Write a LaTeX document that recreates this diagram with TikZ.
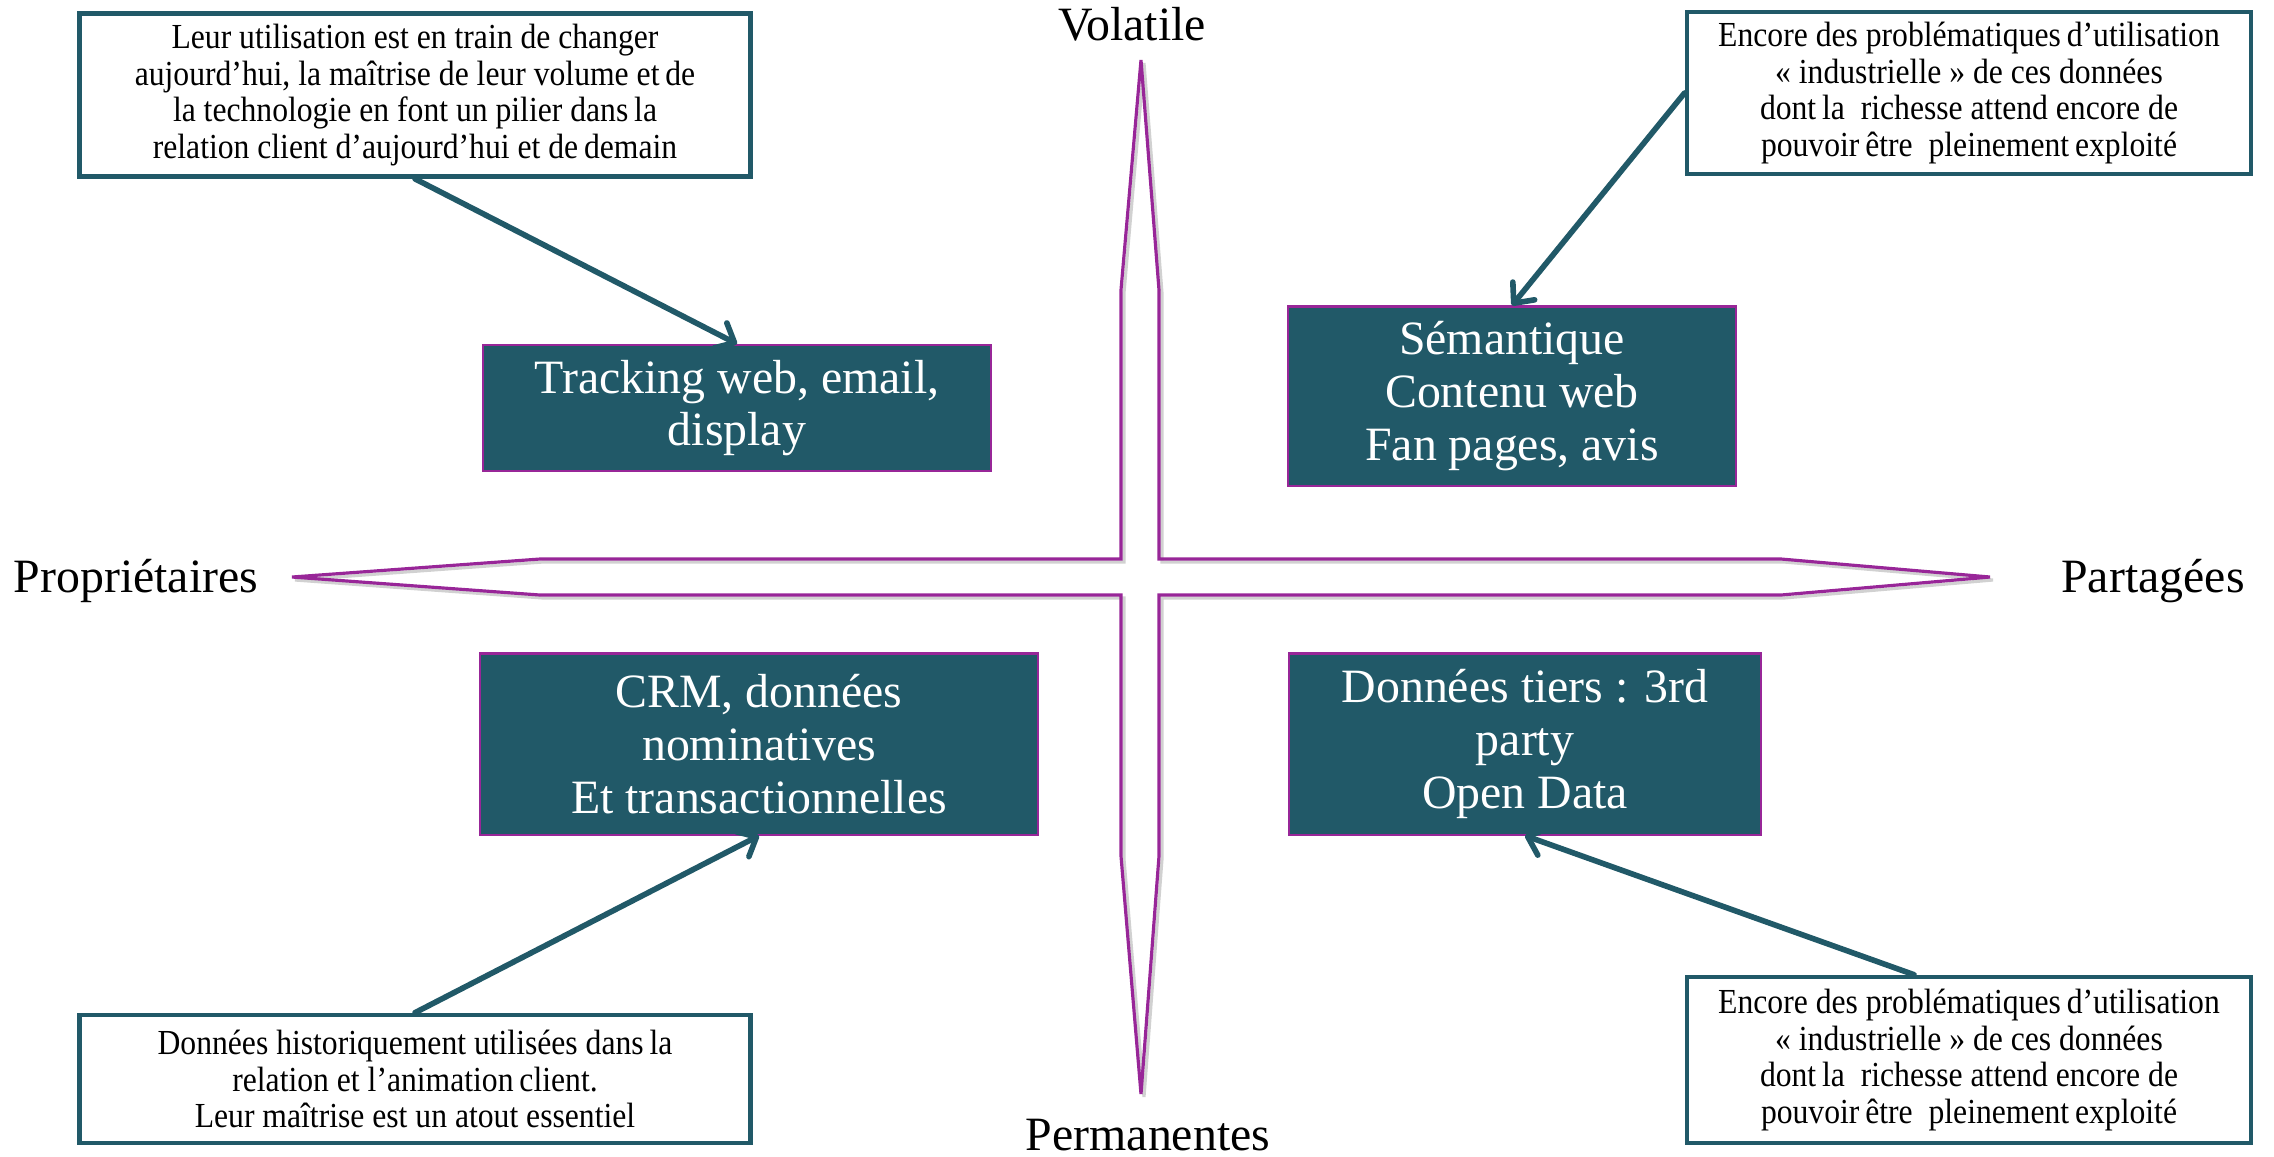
\documentclass[tikz,border=0pt]{standalone}
\usepackage{fontspec}
\setmainfont{Liberation Serif}
\newfontfamily\etroit[FakeStretch=0.9]{Liberation Serif}
\usetikzlibrary{arrows.meta}
\definecolor{bleucanard}{RGB}{33,89,104}
\definecolor{prune}{RGB}{152,38,152}
\begin{document}
\begin{tikzpicture}[x=0.01cm,y=-0.01cm,
    boite/.style={draw=prune, line width=0.6pt, fill=bleucanard, text=white, align=center, inner sep=0pt, font=\fontsize{13.6}{15}\selectfont},
    bulle/.style={draw=bleucanard, line width=1.3pt, fill=white, align=center, inner sep=0pt, font=\etroit\fontsize{10}{10.4}\selectfont},
    axe/.style={anchor=base, font=\fontsize{13.6}{15}\selectfont},
    fleche/.style={draw=bleucanard, line width=1.6pt, line cap=round, -{Straight Barb[length=4.5pt,width=8pt,round]}}]
    \useasboundingbox (0,0) rectangle (2274,1156);
    % la croix
    \foreach \dec/\coul in {3/black!18, 0/prune}
      \draw[\coul, line width=0.9pt, shift={(\dec,\dec)}] (1141,60) -- (1159,290) -- (1159,559) -- (1781,559) -- (1990,577) -- (1781,595) -- (1159,595) -- (1159,856) -- (1141,1094) -- (1121,856) -- (1121,595) -- (540,595) -- (292,577) -- (540,559) -- (1121,559) -- (1121,290) -- cycle;
    \node[axe] (vol) at (1132,40) {Volatile};
    \node[axe] (perm) at (1148,1150) {Permanentes};
    \node[axe] (prop) at (136,592) {Propriétaires};
    \node[axe] (part) at (2153,592) {Partagées};
    % les quatre familles
    \node[boite, minimum width=5.08cm, minimum height=1.26cm] (track) at (737,408) {Tracking web, email,\\ display};
    \node[boite, minimum width=4.47cm, minimum height=1.79cm] (sem) at (1512,396) {Sémantique\\ Contenu web\\ Fan pages, avis};
    \node[boite, minimum width=5.58cm, minimum height=1.81cm] (crm) at (759,744) {CRM, données\\ nominatives\\ Et transactionnelles};
    \node[boite, minimum width=4.72cm, minimum height=1.81cm] (tiers) at (1525,744) {Données tiers : 3rd\\ party\\ Open Data};
    % les commentaires
    \node[bulle, minimum width=6.71cm, minimum height=1.63cm] (cTL) at (415,95) {Leur utilisation est en train de changer\\ aujourd’hui, la maîtrise de leur volume et\,de\\ la technologie en font un pilier dans\,la\\ relation client d’aujourd’hui et de\,demain};
    \node[bulle, minimum width=5.64cm, minimum height=1.62cm] (cTR) at (1969,93) {Encore des problématiques\,d’utilisation\\ « industrielle » de ces données\\ dont\,la\ \ richesse attend encore de\\ pouvoir\,être\ \ pleinement\,exploité};
    \node[bulle, minimum width=6.71cm, minimum height=1.28cm] (cBL) at (415,1079) {Données historiquement utilisées dans\,la\\ relation et l’animation\,client.\\ Leur maîtrise est un atout essentiel};
    \node[bulle, minimum width=5.64cm, minimum height=1.66cm] (cBR) at (1969,1060) {Encore des problématiques\,d’utilisation\\ « industrielle » de ces données\\ dont\,la\ \ richesse attend encore de\\ pouvoir\,être\ \ pleinement\,exploité};
    \draw[fleche] (cTL.south) -- (track.north);
    \draw[fleche] (cTR.west) -- (sem.north);
    \draw[fleche] (cBL.north) -- (crm.south);
    \draw[fleche] ([xshift=-5.5mm]cBR.north) -- (tiers.south);
\end{tikzpicture}
\end{document}
